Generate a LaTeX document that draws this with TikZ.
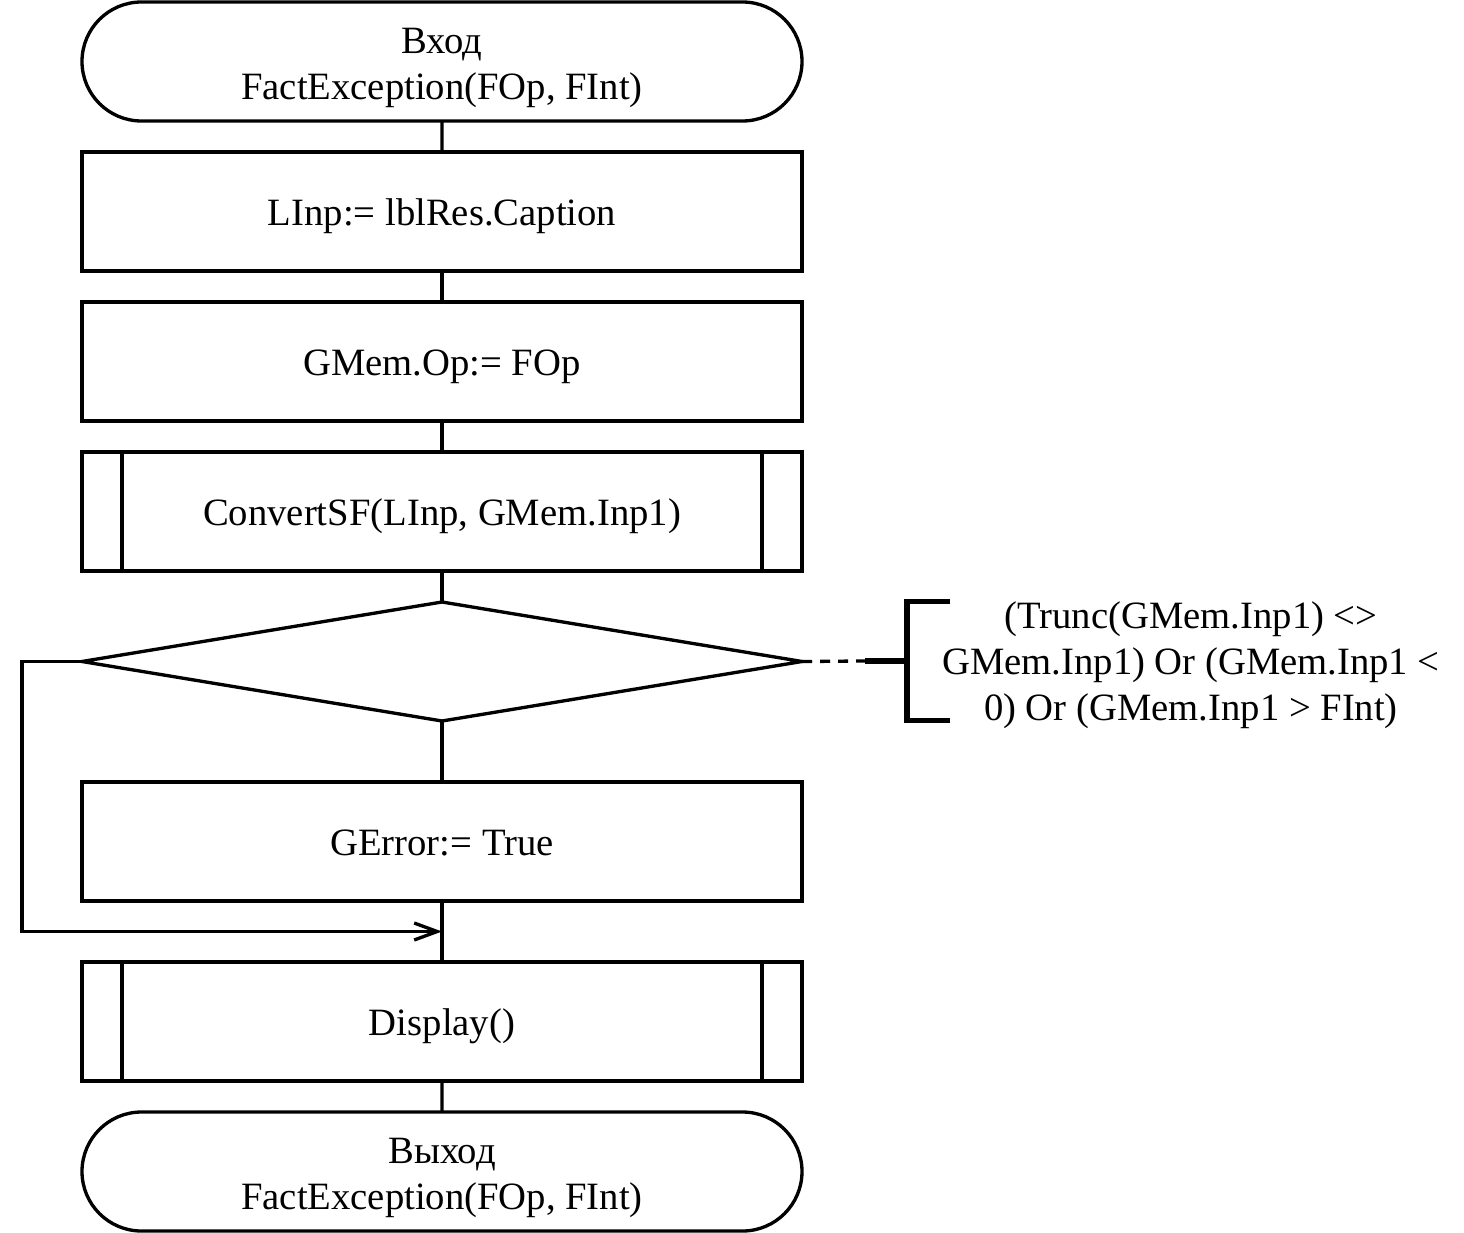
\documentclass[tikz,border=0pt]{standalone}
\usepackage{fontspec}
\setmainfont{Liberation Serif}
\usetikzlibrary{arrows.meta, positioning, shapes.geometric, shapes.misc, calc}

\begin{document}
\begin{tikzpicture}[font=\fontsize{11}{13.1}\selectfont,
    line width=0.95pt, node distance=3.1mm,
    every node/.style={inner sep=0pt, outer sep=0pt},
    block/.style={draw, rectangle, minimum width=7.2cm, minimum height=1.19cm, align=center,
      text height=10.3pt, text depth=2.4pt},
    term/.style={draw, rounded rectangle, minimum width=7.2cm, minimum height=1.19cm, align=center,
      text height=23.8pt, text depth=2.0pt},
    subproc/.style={block, path picture={
        \draw ([xshift=4mm]path picture bounding box.north west) -- ([xshift=4mm]path picture bounding box.south west);
        \draw ([xshift=-4mm]path picture bounding box.north east) -- ([xshift=-4mm]path picture bounding box.south east);}},
    decide/.style={draw, diamond, minimum width=7.2cm, minimum height=1.19cm},
    note/.style={align=center},
    barb/.style={-{Straight Barb[length=2.3mm, width=1.7mm]}}]
  \useasboundingbox (0,0) rectangle (14.64,-12.33);

  % main column
  \node[term] (start) at (4.42,-0.615) {Вход\\FactException(FOp, FInt)};
  \node[block, below=of start] (linp) {LInp:= lblRes.Caption};
  \node[block, below=of linp] (gop) {GMem.Op:= FOp};
  \node[subproc, below=of gop] (conv) {ConvertSF(LInp, GMem.Inp1)};
  \node[decide, below=of conv] (check) {};
  \node[block, below=6.1mm of check] (gerr) {GError:= True};
  \node[subproc, below=6.1mm of gerr] (disp) {Display()};
  \node[term, below=of disp] (stop) {Выход\\FactException(FOp, FInt)};

  % comment
  \node[note] (cond) at (11.91,-6.65)
       {(Trunc(GMem.Inp1) <>\\GMem.Inp1) Or (GMem.Inp1 <\\0) Or (GMem.Inp1 > FInt)};
  \coordinate (brk) at (9.07,-6.61);
  \coordinate (dashend) at (8.65,-6.61);
  \coordinate (merge) at ($(gerr.south)!0.5!(disp.north)$);

  \draw (start) -- (linp);
  \draw (linp) -- (gop);
  \draw (gop) -- (conv);
  \draw (conv) -- (check);
  \draw (check) -- (gerr);
  \draw (gerr) -- (disp);
  \draw (disp) -- (stop);
  \draw[barb] (check.west) -- ++(-0.6,0) |- (merge);

  \draw[dash pattern=on 1mm off 0.8mm] (check.east) -- (dashend);
  \draw[line width=1.7pt] (dashend) -- (brk);
  \draw[line width=1.7pt] ([xshift=4.3mm,yshift=5.95mm]brk) -- ([yshift=5.95mm]brk)
       -- ([yshift=-5.95mm]brk) -- ([xshift=4.3mm,yshift=-5.95mm]brk);
\end{tikzpicture}
\end{document}
